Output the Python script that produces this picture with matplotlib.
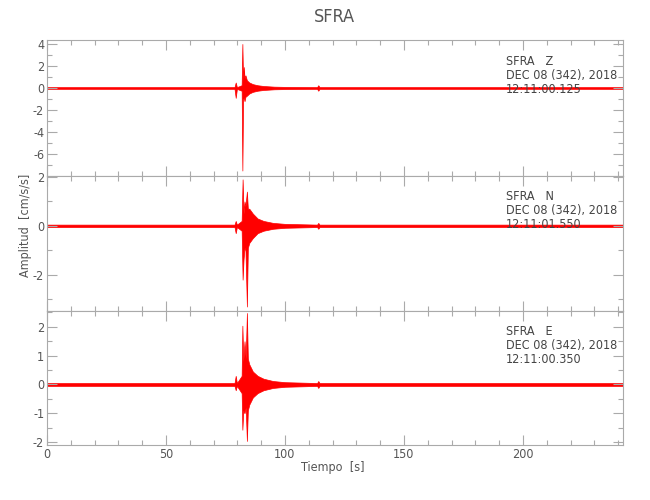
import matplotlib
matplotlib.use("Agg")
import matplotlib.pyplot as plt
from matplotlib.ticker import MultipleLocator

plt.rcParams['font.family'] = ['DejaVu Sans']
plt.rcParams['font.stretch'] = 'condensed'
plt.rcParams['axes.unicode_minus'] = False

t_z = [0, 78.8, 79.3, 79.8, 81.8, 82.1, 82.4, 82.7, 83.0, 83.4, 84.0, 85.0, 86.5, 88.5,
       91, 95.5, 100, 113.5, 114, 114.5, 242]
hi_z = [0.08, 0.08, 0.5, 0.08, 0.25, 4.0, 0.6, 1.9, 0.9, 1.15, 0.7, 0.5, 0.35, 0.25,
        0.18, 0.12, 0.1, 0.08, 0.25, 0.08, 0.08]
lo_z = [-0.08, -0.08, -0.9, -0.08, -0.25, -7.5, -1.0, -0.9, -1.2, -0.8, -0.7, -0.5, -0.35, -0.25,
        -0.18, -0.12, -0.1, -0.08, -0.25, -0.08, -0.08]

t_n = [0, 78.8, 79.3, 79.8, 81.8, 82.2, 82.6, 83.0, 83.4, 84.0, 84.4, 85.0, 86.5, 88.5,
       91, 95, 100, 113.5, 114, 114.5, 242]
hi_n = [0.05, 0.05, 0.2, 0.05, 0.2, 1.9, 0.5, 1.0, 0.8, 1.4, 0.7, 0.7, 0.5, 0.3,
        0.2, 0.12, 0.08, 0.05, 0.12, 0.05, 0.05]
lo_n = [-0.05, -0.05, -0.3, -0.05, -0.2, -2.2, -1.36, -0.9, -1.0, -3.3, -0.9, -0.7, -0.5, -0.3,
        -0.2, -0.12, -0.08, -0.05, -0.12, -0.05, -0.05]

t_e = [0, 78.8, 79.3, 79.8, 81.8, 82.1, 82.5, 83.0, 83.5, 84.0, 84.4, 85.0, 86.5, 88.5,
       91, 95, 100, 113.5, 114, 114.5, 242]
hi_e = [0.05, 0.05, 0.3, 0.05, 0.3, 2.04, 0.8, 1.5, 0.9, 2.48, 0.9, 0.7, 0.45, 0.3,
        0.2, 0.12, 0.08, 0.05, 0.12, 0.05, 0.05]
lo_e = [-0.05, -0.05, -0.2, -0.05, -0.3, -1.57, -0.9, -1.0, -0.8, -1.96, -0.9, -0.7, -0.45, -0.3,
        -0.2, -0.12, -0.08, -0.05, -0.12, -0.05, -0.05]

componentes = ["Z", "N", "E"]
horas = ["12:11:00.125", "12:11:01.550", "12:11:00.350"]
fecha = "DEC 08 (342), 2018"
estacion = "SFRA"
x_max = 242

gris = "#555555"
borde = "#aaaaaa"

fig = plt.figure(figsize=(6.5, 5), dpi=100)

paneles = [
    (t_z, hi_z, lo_z, (-7.97, 4.36), 2, 1, [0.6486, 0.2714]),
    (t_n, hi_n, lo_n, (-3.47, 2.05), 2, 1, [0.3786, 0.2700]),
    (t_e, hi_e, lo_e, (-2.10, 2.56), 1, 0.5, [0.1100, 0.2686]),
]

for i, (t, hi, lo, ylim, mayor, menor, (y0, h)) in enumerate(paneles):
    ax = fig.add_axes([0.0723, y0, 0.886, h])
    ax.fill_between(t, lo, hi, color="#ff0000", edgecolor="#ff0000", linewidth=0.5)
    ax.set_xlim(0, x_max)
    ax.set_ylim(*ylim)
    ax.xaxis.set_major_locator(MultipleLocator(50))
    ax.xaxis.set_minor_locator(MultipleLocator(10))
    ax.yaxis.set_major_locator(MultipleLocator(mayor))
    ax.yaxis.set_minor_locator(MultipleLocator(menor))
    ax.tick_params(which="both", direction="in", top=True, right=True,
                   colors=borde, labelcolor=gris, labelsize=9, width=0.8)
    ax.tick_params(which="major", length=7, pad=2)
    ax.tick_params(which="minor", length=3.5)
    for s in ax.spines.values():
        s.set_color(borde)
        s.set_linewidth(0.8)
    if i < 2:
        ax.tick_params(labelbottom=False)
    ax.text(0.797, 0.844, f"{estacion}   {componentes[i]}", transform=ax.transAxes,
            va="center", ha="left", fontsize=9, color="#444444")
    ax.text(0.797, 0.741, fecha, transform=ax.transAxes,
            va="center", ha="left", fontsize=9, color="#444444")
    ax.text(0.797, 0.637, horas[i], transform=ax.transAxes,
            va="center", ha="left", fontsize=9, color="#444444")

fig.text(0.515, 0.965, estacion, ha="center", va="center", fontsize=13, color=gris)
fig.text(0.040, 0.55, "Amplitud  [cm/s/s]", rotation=90, ha="center", va="center",
         fontsize=9, color=gris)
fig.text(0.512, 0.064, "Tiempo  [s]", ha="center", va="center", fontsize=9, color=gris)

fig.savefig("out.png", dpi=100, facecolor="white")
